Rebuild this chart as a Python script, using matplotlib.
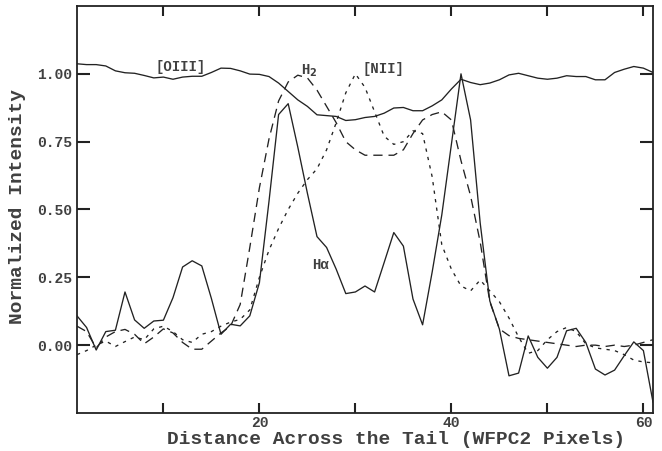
import numpy as np
import matplotlib.pyplot as plt
from matplotlib.ticker import FixedLocator

# Pixel position across the tail (WFPC2 pixels)
pixels = np.arange(1, 62)

# Normalized intensity profiles
halpha = [0.108, 0.065, -0.018, 0.05, 0.055, 0.196, 0.093, 0.062, 0.089, 0.092,
          0.175, 0.288, 0.311, 0.292, 0.172, 0.04, 0.077, 0.071, 0.108, 0.23,
          0.53, 0.85, 0.89, 0.73, 0.56, 0.40, 0.36, 0.28, 0.19, 0.196,
          0.218, 0.196, 0.305, 0.415, 0.365, 0.17, 0.075, 0.27, 0.48, 0.74,
          1.0, 0.83, 0.45, 0.163, 0.059, -0.113, -0.103, 0.034, -0.045, -0.085,
          -0.045, 0.053, 0.062, 0.01, -0.088, -0.11, -0.092, -0.039, 0.012, -0.02,
          -0.21]

oiii = [1.037, 1.034, 1.034, 1.029, 1.011, 1.004, 1.002, 0.994, 0.985, 0.988,
        0.980, 0.988, 0.991, 0.991, 1.005, 1.021, 1.020, 1.011, 0.999, 0.998,
        0.990, 0.966, 0.935, 0.904, 0.880, 0.849, 0.846, 0.843, 0.828, 0.831,
        0.839, 0.843, 0.855, 0.874, 0.876, 0.864, 0.864, 0.882, 0.904, 0.944,
        0.980, 0.968, 0.960, 0.966, 0.978, 0.996, 1.002, 0.993, 0.984, 0.980,
        0.984, 0.993, 0.990, 0.990, 0.978, 0.978, 1.005, 1.017, 1.027, 1.021,
        1.005]

h2 = [0.07, 0.05, -0.01, 0.03, 0.05, 0.058, 0.04, 0.005, 0.03, 0.06,
      0.045, 0.01, -0.015, -0.015, 0.015, 0.045, 0.07, 0.15, 0.36, 0.58,
      0.76, 0.90, 0.97, 0.995, 0.985, 0.94, 0.88, 0.82, 0.75, 0.72,
      0.70, 0.70, 0.70, 0.70, 0.72, 0.78, 0.83, 0.85, 0.86, 0.83,
      0.68, 0.55, 0.38, 0.16, 0.06, 0.035, 0.025, 0.02, 0.015, 0.01,
      0.005, 0.0, -0.005, 0.0, 0.0, -0.005, 0.0, -0.005, 0.0, 0.01,
      0.02]

nii = [-0.035, -0.02, 0.0, 0.015, -0.005, 0.013, 0.03, 0.02, 0.06, 0.07,
       0.05, 0.02, 0.01, 0.04, 0.05, 0.07, 0.085, 0.095, 0.13, 0.25,
       0.35, 0.43, 0.50, 0.56, 0.61, 0.65, 0.72, 0.82, 0.93, 1.0,
       0.95, 0.86, 0.77, 0.74, 0.75, 0.79, 0.78, 0.62, 0.37, 0.28,
       0.218, 0.20, 0.24, 0.20, 0.16, 0.10, 0.03, -0.03, -0.02, 0.02,
       0.05, 0.065, 0.05, 0.005, -0.01, -0.015, -0.02, -0.035, -0.055, -0.062,
       -0.065]

ink = '#222222'
txt = '#404040'
plt.rcParams['font.family'] = 'Liberation Mono'
plt.rcParams['font.weight'] = 'bold'

fig = plt.figure(figsize=(6.62, 4.51), dpi=100)
ax = fig.add_axes([0.1163, 0.0843, 0.8701, 0.9024])

ax.plot(pixels, oiii, color=ink, lw=0.95)
ax.plot(pixels, halpha, color=ink, lw=0.95)
ax.plot(pixels, h2, color=ink, lw=0.95, linestyle=(0, (7, 4.5)))
ax.plot(pixels, nii, color=ink, lw=0.95, linestyle=(0, (2.5, 4)))

# Line labels
ax.text(9.2, 1.026, '[OIII]', fontsize=10, color=txt, va='center', fontweight='bold')
ax.text(24.3, 1.012, 'H$_\\mathbf{2}$', fontsize=10, color=txt, va='center', fontweight='bold')
ax.text(30.7, 1.016, '[NII]', fontsize=10, color=txt, va='center', fontweight='bold')
ax.text(25.5, 0.295, 'H\u03b1', fontsize=10, color=txt, va='center', fontweight='bold')

ax.set_xlim(1, 61)
ax.set_ylim(-0.25, 1.25)
ax.xaxis.set_major_locator(FixedLocator([20, 40, 60]))
ax.xaxis.set_minor_locator(FixedLocator([10, 30, 50]))
ax.set_yticks([0.0, 0.25, 0.5, 0.75, 1.0])
ax.set_yticklabels(['0.00', '0.25', '0.50', '0.75', '1.00'])

ax.tick_params(axis='both', which='both', direction='in', top=True, right=True,
               color=ink, width=1.5, labelsize=10.5, labelcolor=txt)
ax.tick_params(axis='x', which='both', length=7.2, pad=2)
ax.tick_params(axis='y', which='major', length=9.4, pad=3.5)
for sp in ax.spines.values():
    sp.set_color(ink)
    sp.set_linewidth(1.3)

# Axis titles placed as in the original
fig.text(0.599, 0.026, 'Distance Across the Tail (WFPC2 Pixels)', fontsize=14,
         color=txt, fontweight='bold', ha='center', va='center')
fig.text(0.027, 0.543, 'Normalized Intensity', fontsize=14, color=txt,
         fontweight='bold', rotation=90, ha='center', va='center')

fig.savefig('out.png', dpi=100)
